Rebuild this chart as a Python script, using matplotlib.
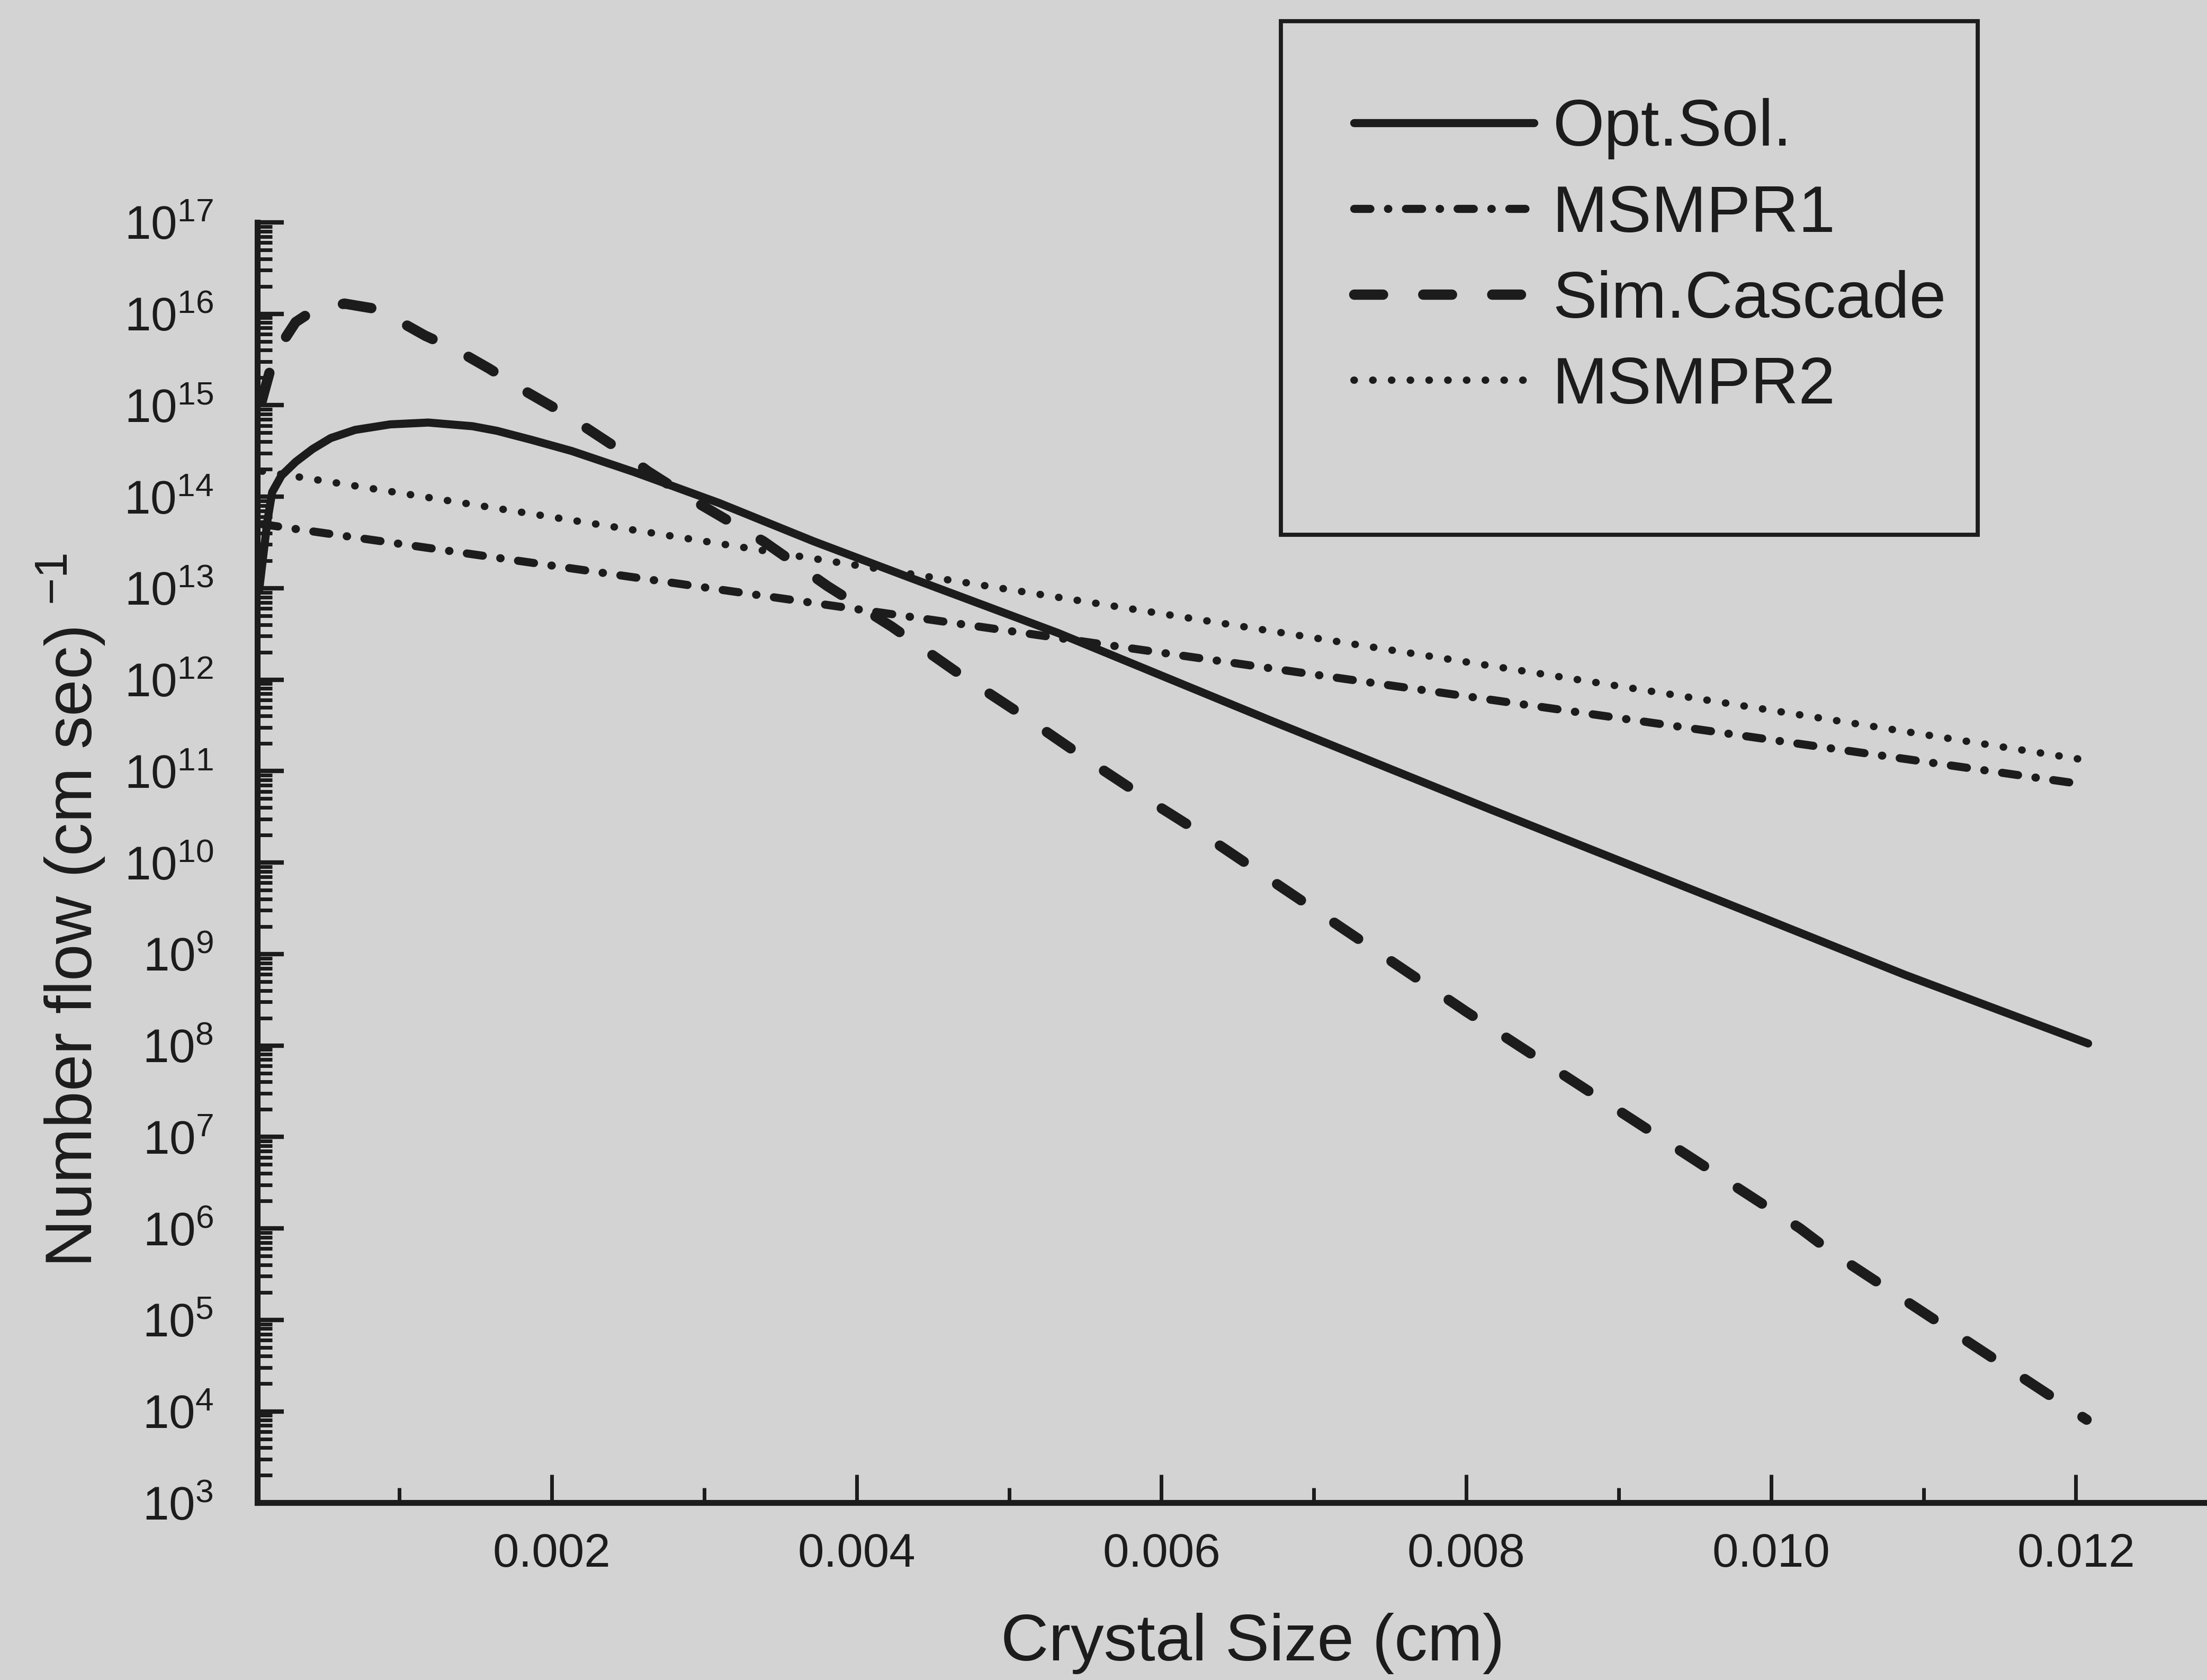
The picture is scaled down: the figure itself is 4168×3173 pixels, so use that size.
import matplotlib
matplotlib.use('Agg')
import matplotlib.pyplot as plt
from matplotlib.ticker import FixedLocator, FixedFormatter, LogLocator, NullFormatter, MultipleLocator
from matplotlib.patches import Rectangle

plt.rcParams['font.family'] = ['Liberation Sans', 'DejaVu Sans']
plt.rcParams['mathtext.default'] = 'regular'

BG = '#d3d3d3'
INK = '#1c1c1c'

# ---------------- data ----------------
opt_x = [0.00008, 0.000107, 0.000135, 0.000166, 0.000227, 0.00032, 0.00043, 0.00055,
         0.00071, 0.00094, 0.00119, 0.00148, 0.00164, 0.00187, 0.00213, 0.00254,
         0.0031, 0.00372, 0.00434, 0.00532, 0.00672, 0.00816, 0.00994, 0.01088, 0.01208]
opt_y = [9.3e12, 2.24e13, 5.5e13, 1.12e14, 1.70e14, 2.4e14, 3.31e14, 4.37e14,
         5.37e14, 6.17e14, 6.46e14, 5.89e14, 5.25e14, 4.17e14, 3.16e14, 1.86e14,
         8.5e13, 3.24e13, 1.32e13, 3.24e12, 3.55e11, 3.8e10, 2.51e9, 5.9e8, 1.05e8]

cascade_x = [0.000098, 0.00018, 0.00032, 0.00043, 0.00064, 0.00086, 0.00117, 0.00138,
             0.00159, 0.0018, 0.00201, 0.00223, 0.00244, 0.00263, 0.00295, 0.00339,
             0.00381, 0.00423, 0.00465, 0.00507, 0.00548, 0.0059, 0.0063, 0.008,
             0.01019, 0.01039, 0.01207]
cascade_y = [1.12e15, 3.55e15, 8.1e15, 1.07e16, 1.29e16, 1.12e16, 5.75e15, 3.98e15,
             2.51e15, 1.51e15, 9.5e14, 5.6e14, 3.3e14, 1.9e14, 8.7e13, 3.24e13,
             1.05e13, 3.8e12, 1.23e12, 4.27e11, 1.45e11, 5.0e10, 1.9e10, 2.34e8,
             1.0e6, 5.6e5, 8.1e3]

msmpr1_x = [0.0001, 0.01206]
msmpr1_y = [5.0e13, 7.1e10]

msmpr2_x = [0.0001, 0.01206]
msmpr2_y = [1.9e14, 1.32e11]

series_labels = ['Opt.Sol.', 'MSMPR1', 'Sim.Cascade', 'MSMPR2']

x_ticks = [0.002, 0.004, 0.006, 0.008, 0.010, 0.012]
x_tick_labels = ['0.002', '0.004', '0.006', '0.008', '0.010', '0.012']
y_tick_exponents = list(range(3, 18))
y_tick_labels = ['$10^{%d}$' % e for e in y_tick_exponents]

x_label = 'Crystal Size (cm)'
y_label = 'Number flow (cm sec) $^{-1}$'

# ---------------- figure ----------------
fig = plt.figure(figsize=(20.84, 15.865), dpi=200, facecolor=BG)
ax = fig.add_axes([0.1167, 0.1055, 0.8833, 0.7622], facecolor=BG)
ax.set_yscale('log')
ax.set_xlim(0.00007, 0.01286)
ax.set_ylim(1e3, 1e17)

l1, = ax.plot(opt_x, opt_y, color=INK, lw=5.5, solid_capstyle='round',
              solid_joinstyle='round', label=series_labels[0])
l2, = ax.plot(msmpr1_x, msmpr1_y, color=INK, lw=5.5, dashes=(2.0, 2.17, 0.05, 2.17),
              dash_capstyle='round', label=series_labels[1])
l3, = ax.plot(cascade_x, cascade_y, color=INK, lw=7, dashes=(2.8, 3.9),
              dash_capstyle='round', dash_joinstyle='round', label=series_labels[2])
l4, = ax.plot(msmpr2_x, msmpr2_y, color=INK, lw=5, dashes=(0.05, 2.5),
              dash_capstyle='round', label=series_labels[3])

for s in ('top', 'right'):
    ax.spines[s].set_visible(False)
for s in ('left', 'bottom'):
    ax.spines[s].set_linewidth(4)
    ax.spines[s].set_color(INK)

ax.yaxis.set_major_locator(FixedLocator([10.0 ** e for e in y_tick_exponents]))
ax.yaxis.set_major_formatter(FixedFormatter(y_tick_labels))
ax.yaxis.set_minor_locator(LogLocator(base=10, subs=range(2, 10), numticks=100))
ax.yaxis.set_minor_formatter(NullFormatter())
ax.xaxis.set_major_locator(FixedLocator(x_ticks))
ax.xaxis.set_major_formatter(FixedFormatter(x_tick_labels))
ax.xaxis.set_minor_locator(MultipleLocator(0.001))

ax.tick_params(axis='both', which='both', direction='in', color=INK, labelcolor=INK)
ax.tick_params(axis='y', which='major', length=18, width=3, pad=30, labelsize=32)
ax.tick_params(axis='y', which='minor', length=10, width=2.5)
ax.tick_params(axis='x', which='major', length=19, width=2.5, pad=20, labelsize=32)
ax.tick_params(axis='x', which='minor', length=10, width=2.5)
for t in ax.get_yticklabels():
    t.set_family(['Liberation Sans Narrow', 'Liberation Sans'])

ax.set_xlabel(x_label, fontsize=45, color=INK)
ax.xaxis.set_label_coords(0.5105, -0.1098)
ax.xaxis.label.set_va('center')
ax.set_ylabel(y_label, fontsize=45, color=INK)
ax.yaxis.set_label_coords(-0.0959, 0.4625)
ax.yaxis.label.set_va('center')

leg = fig.legend(handles=[l1, l2, l3, l4], loc='upper left',
                 bbox_to_anchor=(0.6135, 0.9416), frameon=False, fontsize=45,
                 handlelength=2.72, handletextpad=0.28, labelspacing=0.37,
                 borderpad=0, borderaxespad=0)
for t in leg.get_texts():
    t.set_color(INK)

fig.patches.append(Rectangle((0.5804, 0.6817), 0.3157, 0.3057, transform=fig.transFigure,
                             fill=False, lw=2.8, ec=INK, zorder=4))

fig.savefig('out.png', dpi=200, facecolor=BG)
